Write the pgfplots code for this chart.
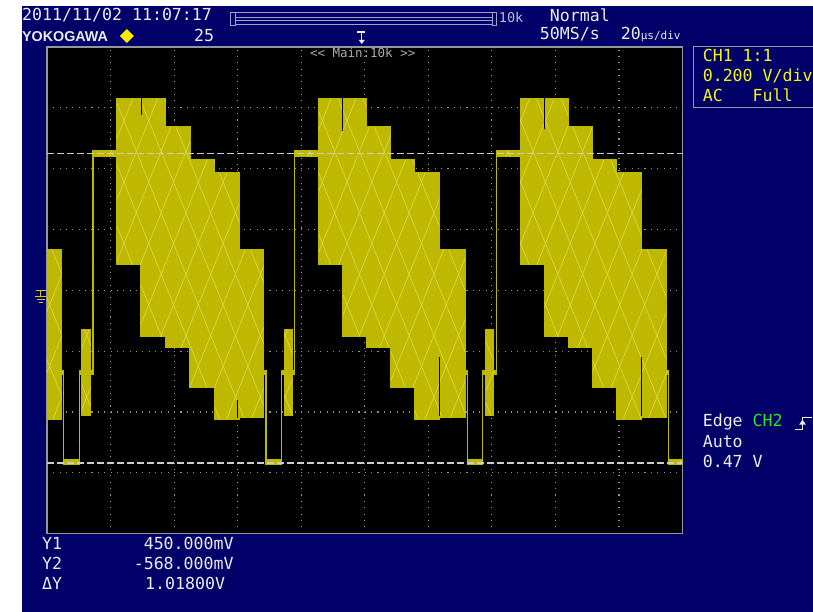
\documentclass[border=0pt]{standalone}
\usepackage{pgfplots}
\pgfplotsset{compat=1.18}
\usetikzlibrary{patterns.meta}
\usepackage{pgfplotstable}
\usepackage{fontspec}
\setmainfont{DejaVu Sans}
\setmonofont{DejaVu Sans Mono}
\newfontfamily\logofont{Liberation Sans}

\definecolor{scrblue}{RGB}{0,0,104}
\definecolor{wave}{RGB}{190,185,0}
\definecolor{hatch}{RGB}{218,214,70}
\definecolor{scrwhite}{RGB}{235,235,240}
\definecolor{scryellow}{RGB}{245,245,20}
\definecolor{scrgreen}{RGB}{40,230,40}
\definecolor{bordergray}{RGB}{150,150,160}
\definecolor{gridgray}{RGB}{150,150,150}
\definecolor{cursorgray}{RGB}{205,205,205}
\definecolor{bargray}{RGB}{160,160,200}
\definecolor{marker}{RGB}{255,235,0}

\newcommand\scrfont{\ttfamily\fontsize{16.6}{18}\selectfont}

% CH1 trace envelope (time in us, voltage in V):
% upper edge left to right, then lower edge right to left
\pgfplotstableread{
t v
0 0.135
4.6 0.135
4.6 -0.264
5.2 -0.264
5.2 -0.557
10.2 -0.557
10.2 -0.264
11.0 -0.264
11.0 -0.130
13.7 -0.130
13.7 -0.264
14.5 -0.264
14.5 0.458
22.0 0.458
22.0 0.629
37.4 0.629
37.4 0.537
45.0 0.537
45.0 0.429
52.8 0.429
52.8 0.386
60.4 0.386
60.4 0.135
68.2 0.135
68.2 -0.264
68.9 -0.264
68.9 -0.557
73.9 -0.557
73.9 -0.264
74.7 -0.264
74.7 -0.130
77.2 -0.130
77.2 -0.264
77.8 -0.264
77.8 0.458
85.5 0.458
85.5 0.629
100.5 0.629
100.5 0.537
108.2 0.537
108.2 0.429
115.7 0.429
115.7 0.386
123.4 0.386
123.4 0.135
131.6 0.135
131.6 -0.264
132.2 -0.264
132.2 -0.557
137.1 -0.557
137.1 -0.264
138.1 -0.264
138.1 -0.130
140.6 -0.130
140.6 -0.264
141.4 -0.264
141.4 0.458
148.9 0.458
148.9 0.629
164.0 0.629
164.0 0.537
171.7 0.537
171.7 0.429
179.3 0.429
179.3 0.386
187.0 0.386
187.0 0.135
195.0 0.135
195.0 -0.264
195.6 -0.264
195.6 -0.557
200 -0.557
200 -0.573
195.6 -0.573
195.6 -0.278
195.0 -0.278
195.0 -0.419
187.0 -0.419
187.0 -0.425
179.3 -0.425
179.3 -0.320
171.7 -0.320
171.7 -0.189
164.0 -0.189
164.0 -0.153
156.5 -0.153
156.5 0.084
148.9 0.084
148.9 0.439
141.4 0.439
141.4 -0.278
140.6 -0.278
140.6 -0.412
138.1 -0.412
138.1 -0.278
137.1 -0.278
137.1 -0.573
132.2 -0.573
132.2 -0.278
131.6 -0.278
131.6 -0.419
123.4 -0.419
123.4 -0.425
115.7 -0.425
115.7 -0.320
108.2 -0.320
108.2 -0.189
100.5 -0.189
100.5 -0.153
93.1 -0.153
93.1 0.084
85.5 0.084
85.5 0.439
77.8 0.439
77.8 -0.278
77.2 -0.278
77.2 -0.412
74.7 -0.412
74.7 -0.278
73.9 -0.278
73.9 -0.573
68.9 -0.573
68.9 -0.278
68.2 -0.278
68.2 -0.419
60.4 -0.419
60.4 -0.425
52.8 -0.425
52.8 -0.320
45.0 -0.320
45.0 -0.189
37.4 -0.189
37.4 -0.153
29.6 -0.153
29.6 0.084
22.0 0.084
22.0 0.439
14.5 0.439
14.5 -0.278
13.7 -0.278
13.7 -0.412
11.0 -0.412
11.0 -0.278
10.2 -0.278
10.2 -0.573
5.2 -0.573
5.2 -0.278
4.6 -0.278
4.6 -0.425
0 -0.425
}\waveshape

\begin{document}
\begin{tikzpicture}
\begin{scope}[x=1pt,y=-1pt]
  \fill[white] (0,0) rectangle (813,612);
  \fill[scrblue] (22,6) rectangle (813,612);
  % header
  \node[anchor=base west, inner sep=0pt, text=scrwhite, font=\scrfont] at (22,20.5) {2011/11/02 11:07:17};
  \node[anchor=base west, inner sep=0pt, text=scrwhite, font=\logofont\bfseries\fontsize{14.3}{16}\selectfont] at (22,41.7) {YOKOGAWA};
  \fill[marker] (127,29) -- (134,36) -- (127,43) -- (120,36) -- cycle;
  \node[anchor=base west, inner sep=0pt, text=scrwhite, font=\scrfont] at (194,41.7) {25};
  % time base bar
  \draw[bargray, line width=1pt] (230.5,12.5) rectangle (235.5,25.5);
  \draw[bargray, line width=1pt] (235.5,13) rectangle (493,25);
  \draw[bargray, line width=1pt] (235.5,17.5) -- (493,17.5);
  \draw[bargray, line width=1pt] (235.5,20.5) -- (493,20.5);
  \draw[bargray, line width=1pt] (493,12.5) rectangle (497,25.5);
  \node[anchor=base west, inner sep=0pt, text=bargray!70!white, font=\ttfamily\fontsize{13.5}{15}\selectfont] at (499,23) {10k};
  \node[anchor=base west, inner sep=0pt, text=scrwhite, font=\scrfont] at (550,21.5) {Normal};
  \node[anchor=base west, inner sep=0pt, text=scrwhite, font=\scrfont] at (540,39.3) {50MS/s};
  \node[anchor=base west, inner sep=0pt, text=scrwhite, font=\scrfont] at (621,39.3) {20\fontsize{11}{12}\selectfont µs/div};
  % trigger position marker
  \draw[scrwhite, line width=1.2pt] (357,32) -- (365,32) (362,32) -- (362,40);
  \fill[scrwhite] (359,40) -- (365,40) -- (362,44) -- cycle;
  % channel box
  \draw[bordergray, line width=1pt] (813,47) -- (694,47) -- (694,108) -- (813,108);
  \node[anchor=base west, inner sep=0pt, text=scryellow, font=\scrfont] at (703,62) {CH1 1:1};
  \begin{scope}
    \clip (690,60) rectangle (813,90);
    \node[anchor=base west, inner sep=0pt, text=scryellow, font=\scrfont] at (703,81.7) {0.200 V/div};
  \end{scope}
  \node[anchor=base west, inner sep=0pt, text=scryellow, font=\scrfont] at (703,101.7) {AC};
  \node[anchor=base west, inner sep=0pt, text=scryellow, font=\scrfont] at (753,101.7) {Full};
  % trigger info
  \node[anchor=base west, inner sep=0pt, text=scrwhite, font=\scrfont] at (703,426.5) {Edge};
  \node[anchor=base west, inner sep=0pt, text=scrgreen, font=\scrfont] at (753,426.5) {CH2};
  \draw[scrwhite, line width=1.2pt] (795,430) -- (803,430) -- (803,418) -- (812,418);
  \fill[scrwhite] (799.5,425) -- (806.5,425) -- (803,420) -- cycle;
  \node[anchor=base west, inner sep=0pt, text=scrwhite, font=\scrfont] at (703,447.5) {Auto};
  \node[anchor=base west, inner sep=0pt, text=scrwhite, font=\scrfont] at (703,467.5) {0.47 V};
  % cursor readout
  \node[anchor=base west, inner sep=0pt, text=scrwhite, font=\scrfont] at (42,550) {Y1};
  \node[anchor=base east, inner sep=0pt, text=scrwhite, font=\scrfont] at (234,550) {450.000mV};
  \node[anchor=base west, inner sep=0pt, text=scrwhite, font=\scrfont] at (42,570) {Y2};
  \node[anchor=base east, inner sep=0pt, text=scrwhite, font=\scrfont] at (234,570) {-568.000mV};
  \node[anchor=base west, inner sep=0pt, text=scrwhite, font=\scrfont] at (42,590) {ΔY};
  \node[anchor=base west, inner sep=0pt, text=scrwhite, font=\scrfont] at (145,590) {1.01800V};
  % ground marker
  \draw[marker!85!black, line width=1pt] (36,290.5) -- (46,290.5) (41,290.5) -- (41,296.5)
     (35,296.5) -- (47,296.5) (37,299.5) -- (45,299.5) (39,302.5) -- (43,302.5);
\end{scope}

\begin{axis}[
  at={(47pt,-534pt)}, anchor=south west,
  width=636pt, height=487pt, scale only axis,
  xmin=0, xmax=200, ymin=-0.8, ymax=0.8,
  axis background/.style={fill=black},
  axis line style={draw=bordergray, line width=1.2pt},
  xtick={20,40,...,180}, ytick={-0.6,-0.4,...,0.6},
  xticklabels={}, yticklabels={},
  tick style={draw=none},
  grid=major,
  major grid style={draw=gridgray, line width=1.1pt, dash pattern=on 1.1pt off 5.26pt},
]
\addplot[draw=wave, fill=wave, line width=1.2pt] table[x=t,y=v]{\waveshape};
\addplot[draw=none, pattern={Lines[angle=68,distance=23pt,line width=0.7pt]}, pattern color=hatch] table[x=t,y=v]{\waveshape};
\addplot[draw=none, pattern={Lines[angle=-68,distance=23pt,line width=0.7pt]}, pattern color=hatch] table[x=t,y=v]{\waveshape};
% dark notches inside the blocks
\addplot[black, line width=1pt] coordinates {(29.6,0.64) (29.6,0.575)};
\addplot[black, line width=1pt] coordinates {(93.1,0.64) (93.1,0.525)};
\addplot[black, line width=1pt] coordinates {(156.5,0.64) (156.5,0.53)};
\addplot[black, line width=1pt] coordinates {(59.8,-0.36) (59.8,-0.42)};
\addplot[black, line width=1pt] coordinates {(123.6,-0.22) (123.6,-0.414)};
\addplot[black, line width=1pt] coordinates {(187.1,-0.22) (187.1,-0.414)};
% cursors
\addplot[cursorgray, line width=1.3pt, dash pattern=on 7pt off 3pt] coordinates {(0,0.45) (200,0.45)};
\addplot[cursorgray, line width=1.3pt, dash pattern=on 7pt off 3pt] coordinates {(0,-0.568) (200,-0.568)};
\end{axis}

\begin{scope}[x=1pt,y=-1pt]
  \node[anchor=base west, inner sep=0pt, text=gridgray!80!white, font=\ttfamily\fontsize{12.5}{14}\selectfont] at (310,58) {<< Main:10k >>};
\end{scope}
\end{tikzpicture}
\end{document}
